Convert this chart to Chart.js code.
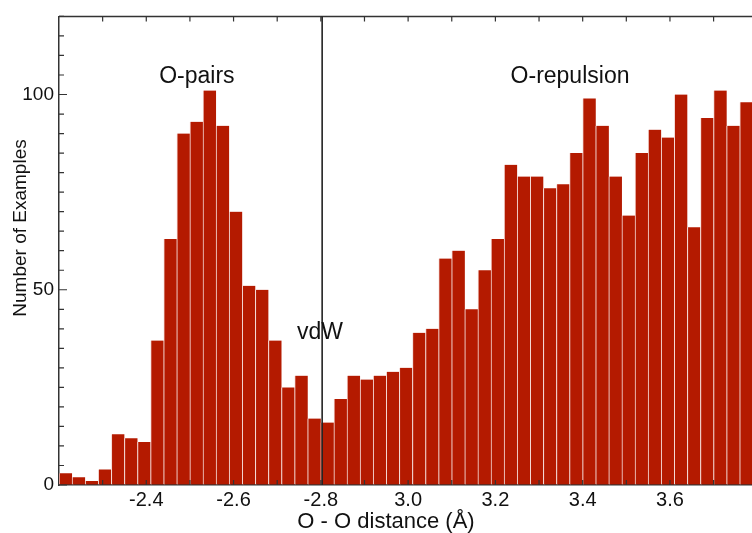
<!DOCTYPE html>
<html lang="en">
<head>
    <meta charset="UTF-8">
    <title>O - O distance histogram</title>
    <script src="https://cdn.jsdelivr.net/npm/chart.js"></script>
    <style>
        body {
        margin: 0;
        padding: 0;
        background-color: #fff;
        }
        .wrap {
        width: 752px;
        height: 533px;
        }
    </style>
</head>
<body>
    <div class="wrap">
        <canvas id="hist"></canvas>
    </div>

    <script>
        // histogram bins: left edge of first bin and bin width (Å)
        const binStart = 2.2;
        const binWidth = 0.03;
        const counts = [3, 2, 1, 4, 13, 12, 11, 37, 63, 90, 93, 101, 92, 70, 51, 50,
            37, 25, 28, 17, 16, 22, 28, 27, 28, 29, 30, 39, 40, 58, 60, 45, 55, 63,
            82, 79, 79, 76, 77, 85, 99, 92, 79, 69, 85, 91, 89, 100, 66, 94, 101, 92, 98];

        const xTicks = [2.3, 2.4, 2.5, 2.6, 2.7, 2.8, 2.9, 3.0, 3.1, 3.2, 3.3, 3.4, 3.5, 3.6, 3.7];
        const xTickLabels = ['', '-2.4', '', '-2.6', '', '-2.8', '', '3.0', '', '3.2', '', '3.4', '', '3.6', ''];
        const yLabelled = [0, 50, 100];

        const vdwLine = 2.803;
        const notes = [
            { text: 'O-pairs', x: 2.516, y: 103 },
            { text: 'O-repulsion', x: 3.371, y: 103 },
            { text: 'vdW', x: 2.798, y: 37.5 }
        ];

        const FONT = '"Liberation Sans", Arial, Helvetica, sans-serif';
        const INK = '#333';

        const points = counts.map((c, i) => ({ x: binStart + binWidth * (i + 0.5), y: c }));

        // frame, inward ticks, vdW line, labels
        const decor = {
            id: 'decor',
            afterDraw(chart) {
                const { ctx, chartArea: a, scales: { x, y } } = chart;
                ctx.save();
                ctx.strokeStyle = INK;
                ctx.lineWidth = 1.5;
                ctx.beginPath();
                ctx.moveTo(a.left, a.top);
                ctx.lineTo(a.right, a.top);
                ctx.stroke();

                ctx.lineWidth = 1.2;
                ctx.beginPath();
                xTicks.forEach(v => {
                    const px = x.getPixelForValue(v);
                    ctx.moveTo(px, a.bottom);
                    ctx.lineTo(px, a.bottom - 5);
                    ctx.moveTo(px, a.top);
                    ctx.lineTo(px, a.top + 5);
                });
                for (let v = 0; v <= 120; v += 5) {
                    const py = y.getPixelForValue(v);
                    const len = yLabelled.includes(v) ? 8 : 5;
                    ctx.moveTo(a.left, py);
                    ctx.lineTo(a.left + len, py);
                }
                ctx.stroke();

                // vdW line
                ctx.strokeStyle = '#222';
                ctx.lineWidth = 1.6;
                const lx = x.getPixelForValue(vdwLine);
                ctx.beginPath();
                ctx.moveTo(lx, a.top);
                ctx.lineTo(lx, a.bottom);
                ctx.stroke();

                ctx.fillStyle = '#111';
                ctx.font = '23px ' + FONT;
                ctx.textAlign = 'center';
                ctx.textBaseline = 'alphabetic';
                notes.forEach(n => {
                    ctx.fillText(n.text, x.getPixelForValue(n.x), y.getPixelForValue(n.y));
                });

                // axis titles
                ctx.font = '22px ' + FONT;
                ctx.textBaseline = 'middle';
                ctx.fillText('O - O distance (Å)', 386, 522);
                ctx.translate(21, 228);
                ctx.rotate(-Math.PI / 2);
                ctx.font = '19px ' + FONT;
                ctx.fillText('Number of Examples', 0, 0);
                ctx.restore();
            }
        };

        const chart = new Chart(document.getElementById('hist'), {
            type: 'bar',
            data: {
                datasets: [{
                    data: points,
                    backgroundColor: '#b41a00',
                    borderColor: '#f6dcd8',
                    borderWidth: { left: 1, right: 0, top: 0, bottom: 0 },
                    borderSkipped: false,
                    barPercentage: 1,
                    categoryPercentage: 1
                }]
            },
            options: {
                responsive: true,
                maintainAspectRatio: false,
                animation: false,
                layout: { padding: { top: 12, right: 0, left: 0, bottom: 0 } },
                plugins: {
                    legend: { display: false },
                    tooltip: { enabled: false }
                },
                scales: {
                    x: {
                        type: 'linear',
                        min: binStart,
                        max: 3.788,
                        offset: false,
                        afterFit: s => { s.height = 48; },
                        afterBuildTicks: s => { s.ticks = xTicks.map(v => ({ value: v })); },
                        grid: { display: true, drawOnChartArea: false, drawTicks: false },
                        border: { display: true, color: INK, width: 1.5 },
                        ticks: {
                            autoSkip: false,
                            maxRotation: 0,
                            padding: 3,
                            color: '#111',
                            font: { family: FONT, size: 20 },
                            callback: (v, i) => xTickLabels[i]
                        }
                    },
                    y: {
                        min: 0,
                        max: 120,
                        afterFit: s => { s.width = 59; },
                        grid: { display: true, drawOnChartArea: false, drawTicks: false },
                        border: { display: true, color: INK, width: 1.5 },
                        ticks: {
                            stepSize: 50,
                            padding: 5,
                            color: '#111',
                            font: { family: FONT, size: 19 },
                            callback: v => (yLabelled.includes(v) ? v : '')
                        }
                    }
                }
            },
            plugins: [decor]
        });
    </script>
</body>
</html>
